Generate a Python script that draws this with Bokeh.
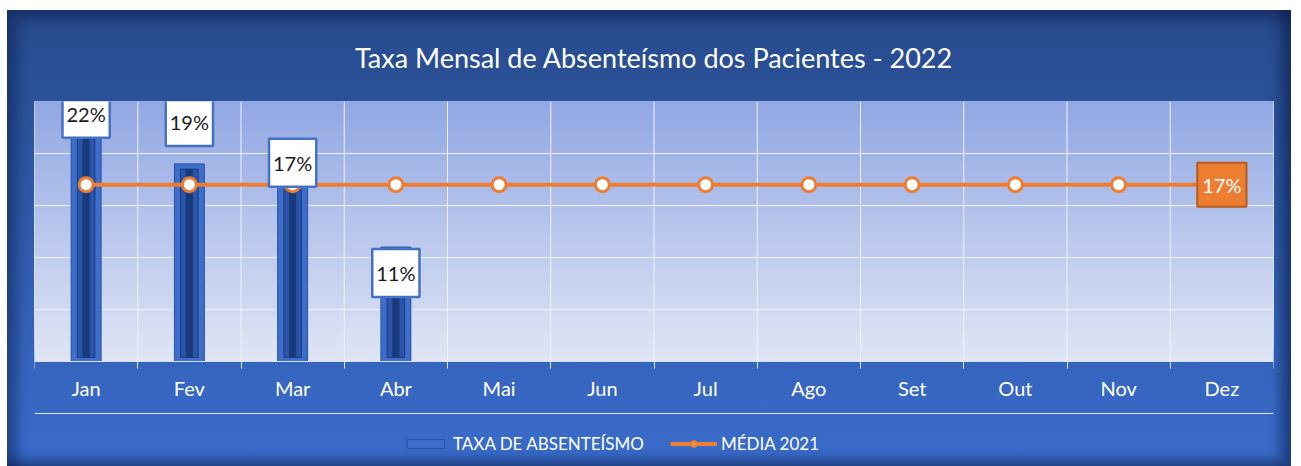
from bokeh.plotting import figure
from bokeh.models import (ColumnDataSource, Range1d, FixedTicker, Grid, Label,
                          Legend, LegendItem, BoxAnnotation)
from bokeh.embed import file_html
from bokeh.resources import INLINE

# ---- data ----
meses = ["Jan", "Fev", "Mar", "Abr", "Mai", "Jun", "Jul", "Ago", "Set", "Out", "Nov", "Dez"]
taxa_meses = ["Jan", "Fev", "Mar", "Abr"]
taxa_absenteismo = [22, 19, 17, 11]
media_2021 = [17, 17, 17, 17, 17, 17, 17, 17, 17, 17, 17, 17]
y_ticks = [0, 5, 10, 15, 20, 25]

# ---- styling ----
label_dy = [19, 42, 22, -26]      # pixel offsets of bar data labels
FONT = "Lato"
PLOT_PX = 260                      # pixel height of the value area (0..25)
BELOW_PX = 103                     # pixel room under the value area for axis + legend

ymax = max(y_ticks)
px_per_unit = PLOT_PX / ymax

xpos = {m: i + 0.5 for i, m in enumerate(meses)}
bar_src = ColumnDataSource(dict(
    x=[xpos[m] for m in taxa_meses],
    top=taxa_absenteismo,
    inner_top=[v - 0.5 for v in taxa_absenteismo],
))
line_src = ColumnDataSource(dict(x=[xpos[m] for m in meses], y=media_2021))
bounds = list(range(len(meses) + 1))

p = figure(frame_width=1239, frame_height=PLOT_PX + BELOW_PX, output_backend="svg",
           toolbar_location=None,
           x_range=Range1d(0, len(meses)), y_range=Range1d(-BELOW_PX / px_per_unit, ymax),
           y_axis_location=None, min_border_left=27, min_border_right=18,
           min_border_top=87, min_border_bottom=2,
           background_fill_color=None, border_fill_color=None, outline_line_color=None)

p.styles = {
    "margin-left": "7px",
    "margin-top": "10px",
    "background": "linear-gradient(to bottom, #284a8c 0%, #2c55a0 30%, #3a6ccb 100%)",
    "box-shadow": "inset 10px 10px 12px rgba(10,25,70,0.45), inset -10px -6px 12px rgba(10,25,70,0.55)",
}

# plot-area gradient (decoration): stacked boxes, each extends to the top to avoid seams
n = 40
top_c = (146, 168, 228)
bot_c = (223, 229, 244)
for i in range(n):
    t = i / (n - 1)
    c = tuple(int(round(bot_c[k] + (top_c[k] - bot_c[k]) * t)) for k in range(3))
    p.add_layout(BoxAnnotation(bottom=ymax * i / n, top=ymax,
                               fill_color="#%02x%02x%02x" % c, fill_alpha=1.0,
                               line_color=None, level="image"))

# grids
p.xgrid.grid_line_color = None
p.segment(x0=bounds, y0=0, x1=bounds, y1=ymax, line_color="#eef1f8", line_width=1,
          level="underlay")
p.add_layout(Grid(dimension=1, ticker=FixedTicker(ticks=y_ticks),
                  grid_line_color="#eef1f8", grid_line_width=1))

# bars (bevelled look)
outer = p.vbar(x="x", top="top", bottom=0, width=0.29, source=bar_src,
               fill_color="#3e6ecb", line_color="#2a4f9e", line_width=1)
p.vbar(x="x", top="inner_top", bottom=0.4, width=0.17, source=bar_src,
       fill_color="#2a55a8", line_color="#1d3c80", line_width=1)
p.vbar(x="x", top="inner_top", bottom=0.4, width=0.07, source=bar_src,
       fill_color="#1b3a7e", line_color=None)

# line
ln = p.line(x="x", y="y", source=line_src, line_color="#ed7d31", line_width=4)
mk = p.scatter(x="x", y="y", source=line_src, size=14, fill_color="white",
               line_color="#ed7d31", line_width=3)

# data labels for bars
for m, v, dy in zip(taxa_meses, taxa_absenteismo, label_dy):
    p.add_layout(Label(x=xpos[m], y=v, y_offset=dy, text=f"{v}%",
                       text_align="center", text_baseline="middle",
                       text_font=FONT, text_font_size="20px", text_color="#1a1a1a",
                       background_fill_color="white", border_line_color="#4472c4",
                       border_line_width=2.5, padding=(4, 12)))

# last-point label for the line
p.add_layout(Label(x=xpos[meses[-1]], y=media_2021[-1], text=f"{media_2021[-1]}%",
                   text_align="center", text_baseline="middle",
                   text_font=FONT, text_font_size="20px", text_color="white",
                   background_fill_color="#ed7d31", border_line_color="#b85a1c",
                   border_line_width=2, padding=(5, 10)))

# x axis, drawn at value 0 inside the frame
p.xaxis.fixed_location = 0
p.xaxis.ticker = FixedTicker(ticks=[xpos[m] for m in meses], minor_ticks=bounds)
p.xaxis.major_label_overrides = {xpos[m]: m for m in meses}
p.xaxis.major_tick_line_color = None
p.xaxis.major_tick_out = 0
p.xaxis.major_tick_in = 0
p.xaxis.minor_tick_line_color = "#d8e0f3"
p.xaxis.minor_tick_out = 7
p.xaxis.minor_tick_in = 0
p.xaxis.axis_line_color = "#d8e0f3"
p.xaxis.axis_line_width = 1
p.xaxis.major_label_text_color = "white"
p.xaxis.major_label_text_font = FONT
p.xaxis.major_label_text_font_size = "20px"
p.xaxis.major_label_standoff = 7

# title
p.title.text = "Taxa Mensal de Absenteísmo dos Pacientes - 2022"
p.title.align = "center"
p.title.text_color = "white"
p.title.text_font = FONT
p.title.text_font_size = "27px"
p.title.text_font_style = "normal"
p.title.standoff = 56

# legend (inside the extended frame, below the axis)
legend = Legend(items=[LegendItem(label="TAXA DE ABSENTEÍSMO", renderers=[outer]),
                       LegendItem(label="MÉDIA 2021", renderers=[ln, mk])],
                orientation="horizontal", location=(368, 10),
                background_fill_alpha=0, border_line_color=None,
                label_text_color="white", label_text_font=FONT,
                label_text_font_size="17px", glyph_width=47, glyph_height=11,
                spacing=26, label_standoff=4, padding=5, margin=0)
p.add_layout(legend, "center")

open("out.html", "w").write(file_html(p, INLINE))
